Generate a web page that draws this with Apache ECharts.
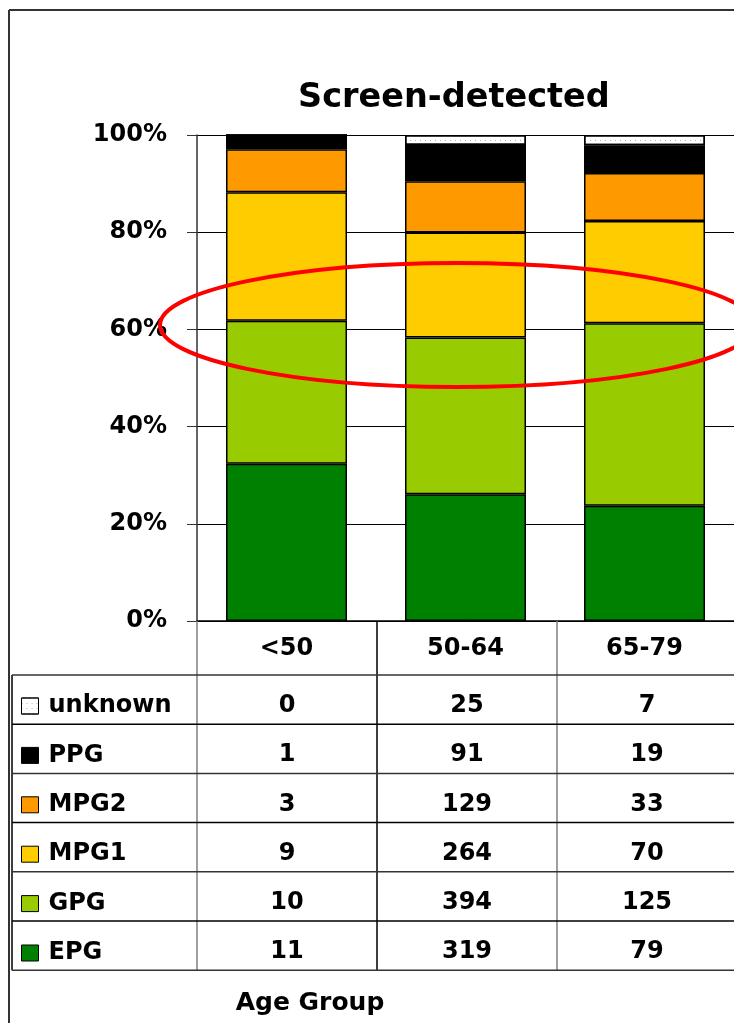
<!DOCTYPE html>
<html>
<head>
<meta charset="utf-8">
<script src="https://cdn.jsdelivr.net/npm/echarts@6/dist/echarts.min.js"></script>
<style>
  html, body { margin: 0; padding: 0; background: #fff; }
  #chart { width: 734px; height: 1023px; }
</style>
</head>
<body>
<div id="chart"></div>
<script>
// counts per age group
var ageGroups = ['<50', '50-64', '65-79'];
var epg = [11, 319, 79];
var gpg = [10, 394, 125];
var mpg1 = [9, 264, 70];
var mpg2 = [3, 129, 33];
var ppg = [1, 91, 19];
var unknown = [0, 25, 7];
var yTicks = [0, 20, 40, 60, 80, 100];

var FONT = 'DejaVu Sans';
var gridLeft = 197, gridTop = 135, gridH = 486, bandW = 180;

var stackOrder = [
    {name: 'EPG', data: epg, color: '#008000'},
    {name: 'GPG', data: gpg, color: '#99cc00'},
    {name: 'MPG1', data: mpg1, color: '#ffcc00'},
    {name: 'MPG2', data: mpg2, color: '#ff9900'},
    {name: 'PPG', data: ppg, color: '#000000'},
    {name: 'unknown', data: unknown, color: '#ffffff'}
];
var tableOrder = stackOrder.slice().reverse();

var totals = ageGroups.map(function (g, i) {
    var s = 0;
    stackOrder.forEach(function (r) { s += r.data[i]; });
    return s;
});

var series = stackOrder.map(function (r) {
    var st = {color: r.color, borderColor: '#000', borderWidth: 1.5};
    if (r.name == 'unknown') {
        st.decal = {symbol: 'rect', symbolSize: 1, dashArrayX: [1, 4], dashArrayY: [1, 4], color: '#b0b0b0', rotation: 0};
    }
    return {
        name: r.name,
        type: 'bar',
        stack: 'total',
        barWidth: 121,
        itemStyle: st,
        emphasis: {disabled: true},
        data: r.data.map(function (v, i) { return v / totals[i] * 100; })
    };
});

// table + frame drawn as graphics
var graphics = [];
var ln = function (x1, y1, x2, y2, c, w) {
    graphics.push({type: 'line', shape: {x1: x1, y1: y1, x2: x2, y2: y2},
        style: {stroke: c, lineWidth: w || 1}, z: 50});
};
var headBottom = 675, rowH = 49.2, tableBottom = headBottom + rowH * 6;

ln(9, 10, 9, 1023, '#333', 2);
ln(9, 10, 734, 10, '#333', 2);
for (var i = 0; i <= ageGroups.length; i++) {
    var x = gridLeft + bandW * i;
    ln(x, 621, x, tableBottom, i % 2 == 1 ? '#000' : '#808080', 1.5);
}
ln(12, headBottom, 12, tableBottom, '#000', 1.5);
for (var k = 0; k <= 6; k++) {
    ln(12, headBottom + rowH * k, 734, headBottom + rowH * k, k % 2 ? '#000' : '#333', 1.5);
}
tableOrder.forEach(function (r, ri) {
    r.data.forEach(function (v, gi) {
        graphics.push({type: 'text', x: gridLeft + bandW * gi + bandW / 2, y: headBottom + rowH * ri + 31, z: 60,
            style: {text: String(v), font: 'bold 24px "' + FONT + '"', fill: '#000', align: 'center', verticalAlign: 'middle'}});
    });
});
graphics.push({type: 'text', x: 310, y: 1003, z: 60,
    style: {text: 'Age Group', font: 'bold 25px "' + FONT + '"', fill: '#000', align: 'center', verticalAlign: 'middle'}});
graphics.push({type: 'ellipse', shape: {cx: 457, cy: 325, rx: 297, ry: 62}, z: 100,
    style: {fill: null, stroke: '#ff0000', lineWidth: 4}});

var option = {
    backgroundColor: '#fff',
    animation: false,
    title: {
        text: 'Screen-detected',
        left: 293,
        top: 76,
        textStyle: {fontFamily: FONT, fontSize: 33.5, fontWeight: 'bold', color: '#000'}
    },
    legend: {
        data: tableOrder.map(function (r) { return r.name; }),
        orient: 'vertical',
        left: 16,
        top: 689,
        icon: 'rect',
        itemWidth: 17,
        itemHeight: 16,
        itemGap: 25.4,
        selectedMode: false,
        itemStyle: {borderWidth: 1, borderColor: '#000'},
        textStyle: {fontFamily: FONT, fontSize: 24, fontWeight: 'bold', color: '#000', padding: [0, 0, 0, 5]}
    },
    grid: {left: gridLeft, top: gridTop, width: bandW * ageGroups.length, height: gridH},
    xAxis: {
        type: 'category',
        data: ageGroups,
        axisLine: {lineStyle: {color: '#000', width: 1.5}},
        axisTick: {show: false},
        axisLabel: {margin: 16, fontFamily: FONT, fontSize: 24, fontWeight: 'bold', color: '#000'}
    },
    yAxis: {
        type: 'value',
        min: yTicks[0],
        max: yTicks[yTicks.length - 1],
        interval: yTicks[1] - yTicks[0],
        axisLine: {show: true, lineStyle: {color: '#333', width: 1.5}},
        axisTick: {show: true, length: 10, lineStyle: {color: '#333'}},
        splitLine: {lineStyle: {color: '#000', width: 1}},
        axisLabel: {formatter: '{value}%', margin: 30, fontFamily: FONT, fontSize: 24, fontWeight: 'bold', color: '#000'}
    },
    graphic: graphics,
    series: series
};

var chart = echarts.init(document.getElementById('chart'));
chart.setOption(option);
</script>
</body>
</html>
